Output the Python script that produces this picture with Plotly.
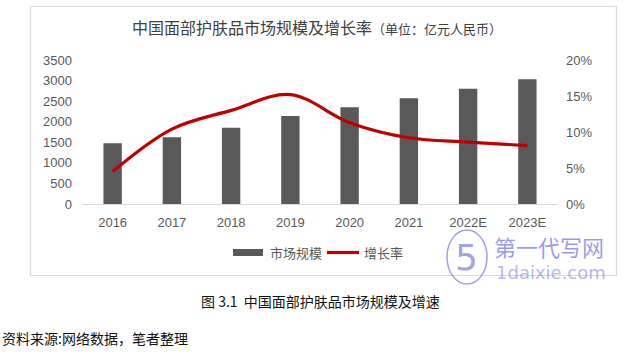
import plotly.graph_objects as go

years = ["2016", "2017", "2018", "2019", "2020", "2021", "2022E", "2023E"]
market_size = [1475, 1622, 1855, 2140, 2350, 2570, 2803, 3032]
growth_rate = [0.045, 0.104, 0.130, 0.152, 0.113, 0.092, 0.086, 0.081]

W, H = 641, 353
L, R, T, B = 83, 557, 60, 204   # plot area in px
PW, PH = R - L, B - T

def xp(px):
    return (px - L) / PW

def yp(py):
    return (B - py) / PH

FONT = "Noto Sans CJK SC, Arial, sans-serif"
TICK = dict(family="Liberation Sans, Arial, sans-serif", size=13, color="#595959")

fig = go.Figure()
fig.add_trace(go.Bar(
    x=years, y=market_size, name="市场规模",
    marker=dict(color="#595959", line=dict(width=0)),
    yaxis="y",
))
fig.add_trace(go.Scatter(
    x=years, y=growth_rate, name="增长率", mode="lines",
    line=dict(color="#c00000", width=3.2, shape="spline", smoothing=1.0),
    yaxis="y2",
))

fig.update_layout(
    width=W, height=H,
    margin=dict(l=L, r=W - R, t=T, b=H - B, pad=0),
    paper_bgcolor="white", plot_bgcolor="white",
    bargap=0.69,
    showlegend=False,
    xaxis=dict(
        showgrid=False, zeroline=False, showline=True, linecolor="#d9d9d9", linewidth=1,
        tickfont=TICK, ticks="", ticklabelstandoff=6,
    ),
    yaxis=dict(
        range=[0, 3500], dtick=500, showgrid=False, zeroline=False, showline=False,
        tickfont=TICK, ticks="", ticklabelstandoff=10,
    ),
    yaxis2=dict(
        range=[0, 0.2], dtick=0.05, tickformat=".0%", overlaying="y", side="right",
        showgrid=False, zeroline=False, showline=False,
        tickfont=TICK, ticks="", ticklabelstandoff=8,
    ),
)

shapes = []
# chart frame
shapes.append(dict(type="rect", xref="paper", yref="paper",
                   x0=xp(30.5), x1=xp(616.5), y0=yp(275.5), y1=yp(6.5),
                   line=dict(color="#d9d9d9", width=1.2), fillcolor="rgba(0,0,0,0)", layer="below"))
# custom legend swatches
shapes.append(dict(type="rect", xref="paper", yref="paper",
                   x0=xp(233), x1=xp(263), y0=yp(256), y1=yp(249),
                   line=dict(width=0), fillcolor="#595959"))
shapes.append(dict(type="line", xref="paper", yref="paper",
                   x0=xp(327), x1=xp(359), y0=yp(252.5), y1=yp(252.5),
                   line=dict(color="#c00000", width=3.2)))
# watermark logo circle
shapes.append(dict(type="circle", xref="paper", yref="paper",
                   x0=xp(447), x1=xp(487), y0=yp(284), y1=yp(230),
                   line=dict(color="rgba(120,120,225,0.7)", width=1.5), fillcolor="rgba(0,0,0,0)"))

annotations = [
    dict(text="中国面部护肤品市场规模及增长率<span style='font-size:13px'>（单位：亿元人民币）</span>",
         x=xp(317), y=yp(27), xref="paper", yref="paper", showarrow=False,
         xanchor="center", yanchor="middle",
         font=dict(family=FONT, size=16, color="#404040")),
    dict(text="市场规模", x=xp(268), y=yp(252.5), xref="paper", yref="paper", showarrow=False,
         xanchor="left", yanchor="middle", font=dict(family=FONT, size=13, color="#595959")),
    dict(text="增长率", x=xp(362), y=yp(252.5), xref="paper", yref="paper", showarrow=False,
         xanchor="left", yanchor="middle", font=dict(family=FONT, size=13, color="#595959")),
    dict(text="图 3.1  中国面部护肤品市场规模及增速", x=xp(320), y=yp(301), xref="paper", yref="paper",
         showarrow=False, xanchor="center", yanchor="middle",
         font=dict(family=FONT, size=14, color="#111111")),
    dict(text="资料来源:网络数据，笔者整理", x=xp(0), y=yp(338), xref="paper", yref="paper",
         showarrow=False, xanchor="left", yanchor="middle",
         font=dict(family=FONT, size=14, color="#111111")),
    # watermark
    dict(text="5", x=xp(466), y=yp(257), xref="paper", yref="paper", showarrow=False,
         xanchor="center", yanchor="middle",
         font=dict(family="DejaVu Sans", size=36, color="rgba(120,120,225,0.7)")),
    dict(text="第一代写网", x=xp(492), y=yp(246), xref="paper", yref="paper", showarrow=False,
         xanchor="left", yanchor="middle",
         font=dict(family=FONT, size=22, color="rgba(120,120,230,0.75)")),
    dict(text="1daixie.com", x=xp(494), y=yp(272), xref="paper", yref="paper", showarrow=False,
         xanchor="left", yanchor="middle",
         font=dict(family="DejaVu Sans", size=18, color="rgba(140,140,230,0.65)")),
]

fig.update_layout(shapes=shapes, annotations=annotations)
fig.write_html("out.html")
